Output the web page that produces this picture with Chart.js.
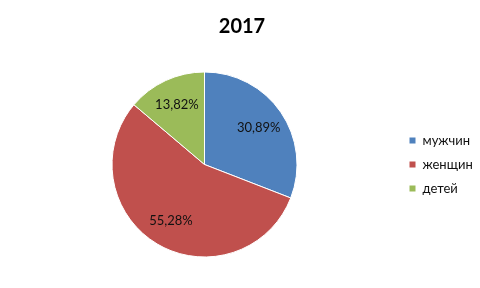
<!DOCTYPE html>
<html>
<head>
<meta charset="utf-8">
<script src="https://cdn.jsdelivr.net/npm/chart.js@4/dist/chart.umd.min.js"></script>
<style>
  html, body { margin: 0; padding: 0; background: #fff; }
  #c { display: block; }
</style>
</head>
<body>
<canvas id="c" width="480" height="288"></canvas>
<script>
const titleText = '2017';
const categories = ['мужчин', 'женщин', 'детей'];
const values = [30.89, 55.28, 13.82];
const colors = ['#4F81BD', '#C0504D', '#9BBB59'];

const pctLabels = {
  id: 'pctLabels',
  afterDatasetsDraw(chart) {
    const ctx = chart.ctx;
    const meta = chart.getDatasetMeta(0);
    ctx.save();
    ctx.font = '13px Lato, "Open Sans", sans-serif';
    ctx.fillStyle = '#111';
    ctx.textAlign = 'center';
    ctx.textBaseline = 'middle';
    meta.data.forEach((arc, i) => {
      const p = arc.getProps(['x', 'y', 'startAngle', 'endAngle', 'outerRadius'], true);
      const mid = (p.startAngle + p.endAngle) / 2;
      const r = p.outerRadius * 0.71;
      const txt = values[i].toFixed(2).replace('.', ',') + '%';
      ctx.fillText(txt, p.x + Math.cos(mid) * r, p.y + Math.sin(mid) * r);
    });
    ctx.restore();
  }
};

new Chart(document.getElementById('c'), {
  type: 'pie',
  data: {
    labels: categories,
    datasets: [{
      data: values,
      backgroundColor: colors,
      borderColor: '#ffffff',
      borderWidth: 1
    }]
  },
  options: {
    responsive: false,
    animation: false,
    layout: { padding: { top: 0, bottom: 30.5, left: 11, right: 7 } },
    plugins: {
      title: {
        display: true,
        text: titleText,
        color: '#000',
        font: { family: 'Lato, "Open Sans", sans-serif', size: 20, weight: 'bold' },
        padding: { top: 15, bottom: 32.5 }
      },
      legend: {
        position: 'right',
        fullSize: false,
        maxWidth: 75,
        labels: {
          boxWidth: 7,
          boxHeight: 7,
          padding: 11,
          color: '#111',
          font: { family: 'Lato, "Open Sans", sans-serif', size: 13 }
        }
      },
      tooltip: { enabled: false }
    }
  },
  plugins: [pctLabels]
});
</script>
</body>
</html>
